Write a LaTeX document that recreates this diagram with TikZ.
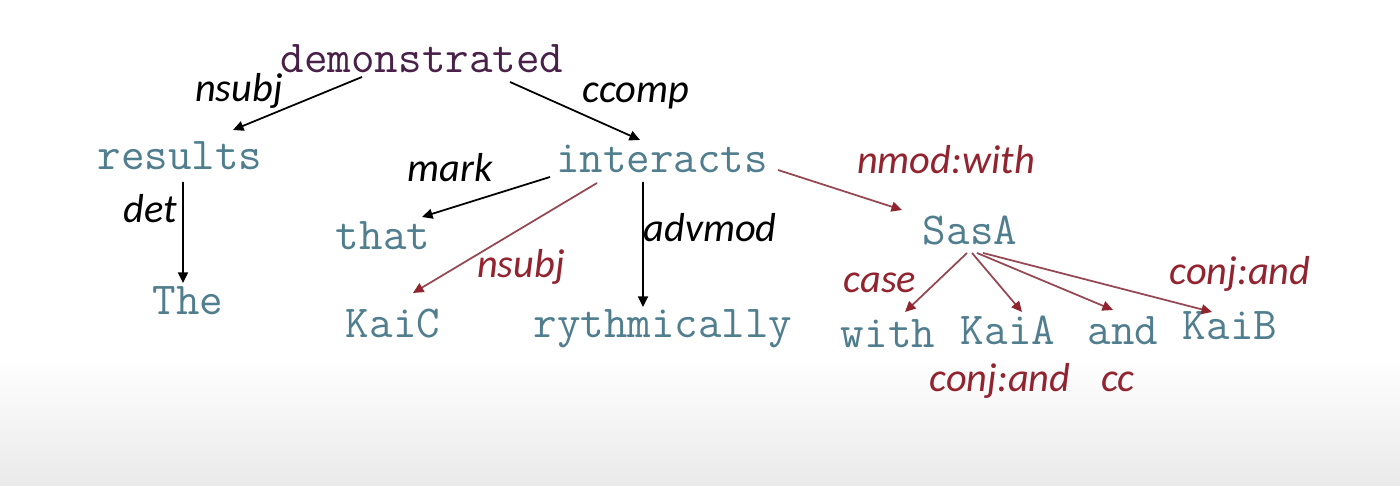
\documentclass[tikz,border=0pt]{standalone}
\usepackage{fontspec}
\newfontfamily\relfont{Carlito}
\usetikzlibrary{arrows.meta,calc}
\definecolor{wordblue}{RGB}{80,126,142}
\definecolor{rootpurple}{RGB}{72,32,72}
\definecolor{relred}{RGB}{146,36,48}
\definecolor{arrred}{RGB}{150,72,82}
\definecolor{bggray}{RGB}{234,234,234}

\begin{document}
\begin{tikzpicture}[
  word/.style={font=\ttfamily\fontsize{13}{15}\selectfont,text=wordblue,inner sep=0pt,anchor=base},
  rel/.style={font=\relfont\itshape\fontsize{11.5}{13}\selectfont,inner sep=0pt,anchor=base},
  blackrel/.style={rel,text=black},
  redrel/.style={rel,text=relred},
  dep/.style={-{Triangle[length=3pt,width=2.8pt]},line width=0.5pt,black},
  reddep/.style={line width=0.5pt,draw=arrred,-{Triangle[length=3pt,width=2.8pt,color=relred]}}
]
\useasboundingbox (0,0) rectangle (14,-4.86);
% --- background ---
\fill[white] (0,0) rectangle (14,-4.86);
\shade[top color=white,bottom color=bggray] (0,-3.55) rectangle (14,-4.86);

% --- words ---
\node[word,text=rootpurple] (dem) at (4.22,-0.73) {demonstrated};
\node[word] (res) at (1.80,-1.70) {results};
\node[word] (int) at (6.62,-1.73) {interacts};
\node[word] (that) at (3.83,-2.50) {that};
\node[word] (the) at (1.88,-3.15) {The};
\node[word] (kaic) at (3.93,-3.38) {KaiC};
\node[word] (ryth) at (6.63,-3.38) {rythmically};
\node[word] (sasa) at (9.70,-2.45) {SasA};
\node[word] (with) at (8.88,-3.48) {with};
\node[word] (kaia) at (10.08,-3.45) {KaiA};
\node[word] (and) at (11.23,-3.45) {and};
\node[word] (kaib) at (12.30,-3.40) {KaiB};

% --- relation labels ---
\node[blackrel] (lnsubj) at (2.39,-1.02) {nsubj};
\node[blackrel] (lccomp) at (6.36,-1.03) {ccomp};
\node[blackrel] (ldet) at (1.50,-2.23) {det};
\node[blackrel] (lmark) at (4.50,-1.82) {mark};
\node[blackrel] (ladvmod) at (7.10,-2.42) {advmod};
\node[redrel] (lnsubjb) at (5.21,-2.78) {nsubj};
\node[redrel] (lnmod) at (9.46,-1.74) {nmod:with};
\node[redrel] (lcase) at (8.80,-2.93) {case};
\node[redrel] (lconjb) at (12.40,-2.85) {conj:and};
\node[redrel] (lconja) at (10.00,-3.92) {conj:and};
\node[redrel] (lcc) at (11.18,-3.92) {cc};

% --- black arcs ---
\draw[dep] ($(dem.base)+(-0.60,-0.04)$) -- ($(res.base)+(0.53,0.40)$);
\draw[dep] ($(dem.base)+(0.88,-0.09)$) -- ($(int.base)+(-0.22,0.33)$);
\draw[dep] ($(res.base)+(0.03,-0.12)$) -- ($(the.base)+(-0.05,0.32)$);
\draw[dep] ($(int.base)+(-1.12,-0.04)$) -- ($(that.base)+(0.39,0.33)$);
\draw[dep] ($(int.base)+(-0.19,-0.09)$) -- ($(ryth.base)+(-0.20,0.31)$);

% --- red arcs ---
\draw[reddep] ($(int.base)+(-0.65,-0.10)$) -- ($(kaic.base)+(0.20,0.45)$);
\draw[reddep] ($(int.base)+(1.16,0.03)$) -- ($(sasa.base)+(-0.68,0.35)$);
\foreach \sx/\tgt/\ex/\ey in {-0.03/with/0.17/0.36, 0.02/kaia/0.14/0.33, 0.07/and/-0.10/0.35, 0.13/kaib/-0.18/0.28}{
  \draw[reddep] ($(sasa.base)+(\sx,-0.08)$) -- ($(\tgt.base)+(\ex,\ey)$);
}
\end{tikzpicture}
\end{document}
